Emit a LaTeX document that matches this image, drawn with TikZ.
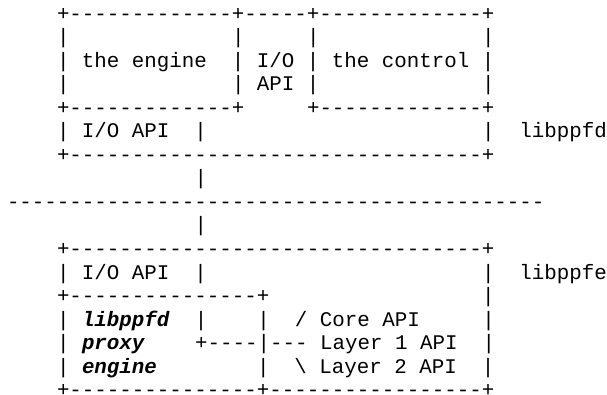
\documentclass[tikz,border=0pt]{standalone}
\usepackage{fontspec}
\setmonofont{Liberation Mono}
\tikzset{
  asc/.style={anchor=base west, inner sep=0pt, outer sep=0pt,
    font=\ttfamily\fontsize{20.83}{23.5}\selectfont, text=black},
}
\newcommand\bi[1]{\textbf{\textit{#1}}}
\begin{document}
\begin{tikzpicture}[x=1pt,y=-1pt]
\useasboundingbox (0,0) rectangle (607,394);
% column c -> x = 7 + 12.5*c ; row r -> baseline y = 20 + 23.55*r
\node[asc] (r0)  at ({7+12.5*4},{20+23.55*0})  {+-------------+-----+-------------+};
\node[asc] (r1)  at ({7+12.5*4},{20+23.55*1})  {|~~~~~~~~~~~~~|~~~~~|~~~~~~~~~~~~~|};
\node[asc] (r2)  at ({7+12.5*4},{20+23.55*2})  {|~the~engine~~|~I/O~|~the~control~|};
\node[asc] (r3)  at ({7+12.5*4},{20+23.55*3})  {|~~~~~~~~~~~~~|~API~|~~~~~~~~~~~~~|};
\node[asc] (r4)  at ({7+12.5*4},{20+23.55*4})  {+-------------+~~~~~+-------------+};
\node[asc] (r5)  at ({7+12.5*4},{20+23.55*5})  {|~I/O~API~~|~~~~~~~~~~~~~~~~~~~~~~|~~libppfd};
\node[asc] (r6)  at ({7+12.5*4},{20+23.55*6})  {+---------------------------------+};
\node[asc] (r7)  at ({7+12.5*15},{20+23.55*7}) {|};
\node[asc] (r8)  at ({7+12.5*0},{20+23.55*8})  {-------------------------------------------};
\node[asc] (r9)  at ({7+12.5*15},{20+23.55*9}) {|};
\node[asc] (r10) at ({7+12.5*4},{20+23.55*10}) {+---------------------------------+};
\node[asc] (r11) at ({7+12.5*4},{20+23.55*11}) {|~I/O~API~~|~~~~~~~~~~~~~~~~~~~~~~|~~libppfe};
\node[asc] (r12) at ({7+12.5*4},{20+23.55*12}) {+---------------+~~~~~~~~~~~~~~~~~|};
\node[asc] (r13) at ({7+12.5*4},{20+23.55*13}) {|~\bi{libppfd}~~|~~~~|~~/~Core~API~~~~~|};
\node[asc] (r14) at ({7+12.5*4},{20+23.55*14}) {|~\bi{proxy}~~~~+----|---~Layer~1~API~~|};
\node[asc] (r15) at ({7+12.5*4},{20+23.55*15}) {|~\bi{engine}~~~~~~~~|~~\textbackslash~Layer~2~API~~|};
\node[asc] (r16) at ({7+12.5*4},{20+23.55*16}) {+---------------+-----------------+};
\end{tikzpicture}
\end{document}
